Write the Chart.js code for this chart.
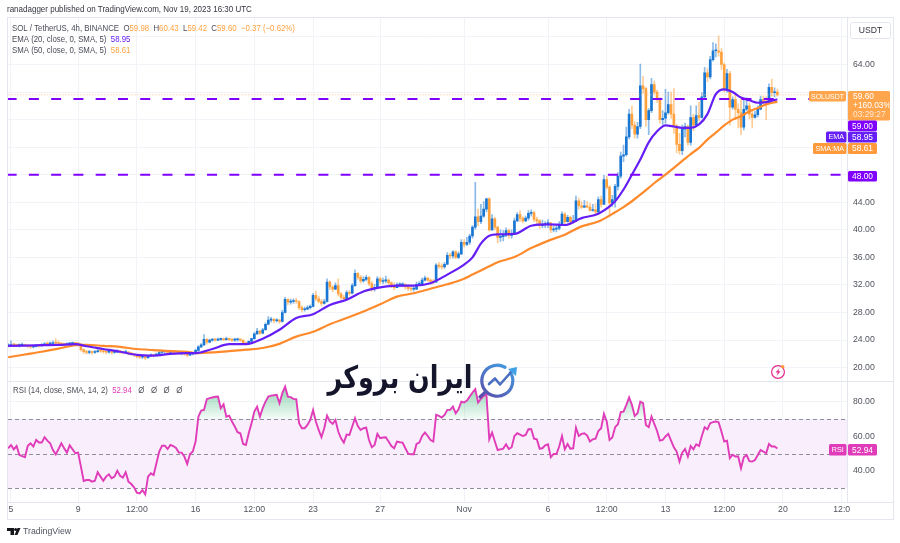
<!DOCTYPE html>
<html>
<head>
<meta charset="utf-8">
<style>
html,body{margin:0;padding:0;background:#fff;}
canvas{display:block;}
</style>
<script src="https://cdn.jsdelivr.net/npm/chart.js@4/dist/chart.umd.min.js"></script>
</head>
<body>
<canvas id="c" width="900" height="543"></canvas>
<script>
/* ===== data, first bar is index -1, Oct 5 00:00 is index 0, one bar per 4h ===== */
const barClose=[
23.2,23.35,23.3,23.2,23.25,23.3,23.2,23.1,23.0,23.05,23.2,23.15,23.3,23.45,23.4,23.5,23.6,23.55,23.5,23.4,23.35,23.45,23.5,23.55,23.5,23.45,
22.6,22.3,22.2,22.3,22.2,22.3,22.45,22.4,22.3,22.25,22.3,22.2,22.25,22.4,22.3,22.2,22.3,22.1,22.0,21.85,21.6,21.5,21.55,21.4,21.7,21.8,21.75,21.95,22.2,22.3,22.3,22.2,22.3,22.25,22.2,22.05,22.05,22.0,21.8,21.95,22.05,22.5,
23.0,23.3,24.1,23.7,24.0,24.1,24.0,24.1,24.15,24.05,24.2,24.1,24.0,24.05,24.1,24.0,23.55,23.45,23.8,24.2,24.9,25.3,25.0,25.5,26.3,26.9,27.0,26.8,26.9,26.7,28.0,29.9,
29.5,29.6,29.7,29.6,28.7,28.4,28.5,28.7,28.9,30.5,30.0,29.6,29.3,29.6,32.4,31.7,31.4,31.9,30.7,30.2,30.0,30.9,30.8,31.9,33.7,33.1,32.6,32.8,33.1,32.2,31.5,31.6,32.9,32.5,32.6,32.7,32.3,31.9,31.6,32.0,32.0,32.0,31.7,31.5,31.4,31.4,32.1,32.2,32.7,33.0,32.7,32.5,32.4,
34.9,34.7,34.6,35.0,36.3,36.2,36.8,36.0,36.5,38.2,37.9,38.2,39.1,40.4,41.9,41.2,42.0,43.0,44.5,40.0,41.6,40.4,38.9,39.0,39.2,39.9,39.2,39.4,41.3,42.2,41.7,41.3,41.7,42.4,42.5,41.5,41.3,40.6,40.7,40.9,41.0,40.0,40.1,40.2,40.8,42.3,41.2,41.8,41.2,41.3,44.2,
43.5,43.3,43.5,43.3,42.8,42.9,42.6,44.4,43.7,47.3,46.2,43.9,44.4,46.3,47.8,50.7,50.9,53.5,56.8,55.2,53.9,55.0,60.9,60.5,56.0,57.3,61.1,60.0,59.0,56.0,56.2,57.0,58.2,56.8,55.1,52.4,51.5,54.6,55.0,52.7,56.3,55.2,56.6,56.3,
59.3,62.8,62.2,64.7,66.0,66.0,65.8,64.0,60.4,62.7,57.8,58.9,57.5,57.0,54.9,57.5,58.0,56.8,56.3,56.7,57.5,58.9,58.6,58.4,60.7,59.9,59.98,59.60];
const barHigh=[
23.5,23.9,23.5,23.4,23.45,23.6,23.4,23.35,23.25,23.2,23.35,23.3,23.5,23.65,23.7,23.75,23.9,24.2,23.9,23.65,23.55,23.6,23.65,23.7,23.65,23.6,
23.4,22.7,22.5,22.5,22.4,22.5,22.6,22.6,22.5,22.45,22.5,22.35,22.4,22.6,22.45,22.35,22.55,22.3,22.2,22.0,21.9,21.7,21.7,21.6,21.8,22.0,21.95,22.1,22.35,22.5,22.5,22.45,22.5,22.4,22.35,22.25,22.2,22.15,22.0,22.1,22.2,22.7,
23.2,23.5,24.8,24.2,24.15,24.2,24.25,24.3,24.3,24.3,24.45,24.3,24.2,24.3,24.3,24.2,24.0,23.7,23.9,24.3,25.1,25.7,25.4,25.7,26.5,27.4,27.3,27.1,27.1,27.0,28.3,30.2,
30.0,29.95,30.0,30.1,29.7,29.0,28.8,29.0,29.1,30.8,31.1,30.4,29.9,29.9,32.9,32.6,31.9,32.3,32.9,30.9,30.5,31.2,31.2,32.2,34.2,33.8,33.4,33.2,33.4,33.2,32.5,32.1,33.2,33.1,33.0,33.3,32.9,32.5,32.3,32.3,32.3,32.3,32.2,32.0,31.8,31.7,32.4,32.5,33.0,33.3,33.1,32.9,32.8,
35.1,35.3,35.1,35.3,36.7,36.6,37.0,37.0,36.8,38.6,38.6,38.9,39.4,40.6,46.9,43.0,43.7,44.1,44.6,44.7,42.2,41.8,40.5,40.0,39.9,40.3,40.1,40.0,41.7,42.5,42.8,41.9,42.0,42.8,42.9,42.7,41.8,41.5,41.4,41.2,41.5,41.1,40.5,40.6,41.2,42.6,42.5,42.1,42.0,42.1,44.9,
44.6,44.1,44.3,44.1,43.9,43.7,43.8,44.8,44.9,47.9,47.8,46.4,45.0,46.6,48.3,51.3,52.3,54.9,57.5,58.0,55.7,55.6,64.05,62.3,60.7,57.6,62.0,61.6,60.3,59.2,57.3,60.4,60.0,60.0,60.5,55.3,54.0,55.2,55.5,55.2,58.0,56.8,58.0,58.5,
59.9,63.6,63.4,65.2,67.2,67.0,68.15,66.3,64.2,63.3,63.0,59.3,59.6,58.3,59.0,59.2,59.2,58.4,57.5,57.2,58.0,59.4,59.4,59.3,61.2,61.9,60.6,60.43];
const barLow=[
23.0,23.1,23.1,23.05,23.0,23.15,23.1,22.9,22.8,22.85,23.0,22.95,23.1,23.2,23.25,23.3,23.4,23.4,23.3,23.25,23.2,23.3,23.3,23.35,23.35,23.3,
22.4,22.05,21.95,22.0,21.9,22.05,22.2,22.2,22.1,22.0,22.1,21.95,22.05,22.2,22.05,22.0,22.1,21.85,21.8,21.6,21.4,21.3,21.35,21.15,21.4,21.6,21.55,21.7,21.9,22.05,22.1,22.05,22.1,22.05,22.0,21.9,21.85,21.8,21.6,21.75,21.85,22.0,
22.4,22.9,23.2,23.4,23.6,23.8,23.85,23.9,23.95,23.9,24.0,23.9,23.75,23.8,23.8,23.8,23.45,23.3,23.35,23.7,24.1,24.8,24.8,24.9,25.4,26.2,26.6,26.5,26.6,26.4,26.6,27.9,
29.1,29.2,29.3,29.3,28.4,28.1,28.2,28.4,28.5,28.8,29.7,29.4,29.0,29.2,29.5,31.3,31.0,31.3,30.4,29.9,29.7,29.9,30.5,30.7,31.8,32.8,32.3,32.4,32.6,31.9,31.1,31.1,31.5,32.1,32.2,32.3,32.0,31.6,31.3,31.6,31.7,31.7,31.4,31.2,31.1,31.1,31.3,31.9,32.1,32.6,32.5,32.2,32.1,
32.4,34.4,34.3,34.4,34.9,35.8,35.9,35.8,35.8,36.4,37.5,37.7,37.9,38.8,40.1,40.6,40.9,41.8,42.6,39.8,39.9,40.0,38.1,38.3,38.4,39.0,38.8,38.8,39.3,41.2,41.2,41.0,41.2,41.4,42.0,41.2,40.9,40.2,40.3,40.3,40.3,39.6,39.7,39.7,40.0,40.6,40.9,41.1,40.8,41.0,41.2,
43.0,43.1,43.2,43.2,42.7,42.7,42.3,42.3,43.3,43.9,45.9,42.0,43.4,43.3,45.8,47.5,49.9,50.7,53.2,54.7,53.3,53.3,54.7,59.8,55.0,53.8,57.0,59.7,58.5,55.5,55.3,55.5,56.8,56.2,54.0,51.2,51.0,50.9,53.5,52.3,52.3,54.4,55.9,55.8,
56.2,59.0,61.5,61.9,64.5,65.1,65.2,63.3,60.0,60.0,55.2,57.5,56.0,54.8,53.8,54.5,57.3,56.1,54.8,56.2,56.4,57.4,58.1,56.0,58.3,59.4,59.3,59.42];
const rsiValues=[
53.1,55,52.5,54.4,49.2,48.6,47.9,54.6,56,54.1,57.9,56.4,56.4,59.5,57.5,56,52.1,49.6,52.7,56,53.1,50.6,54.8,52.5,50.2,50.6,
42.5,34.2,34.7,34.7,33.8,34.3,39.2,36.7,34.3,36.7,38,35.7,36.7,40.1,37.2,36.1,39.2,33.8,32.4,30.5,27.4,27,28.9,26.4,36.7,38.6,37.6,44.4,51.2,54.6,54.6,52.7,55,54.4,53.3,50.6,50.6,48.3,44,49.8,51.2,57,
71.4,74.9,75.3,81.5,82.1,82.5,82.9,83,76.3,78.6,71.4,72,68.6,65.7,62.4,61.8,55.6,55,61.8,67.6,74.3,77.2,71.4,76.3,80.1,83,83.6,83.8,84,79.2,85,88.8,83,82.7,81.7,81.5,67.6,
64.7,64.7,66.6,69.5,75.3,68.6,63.7,59.5,64.7,72,68.6,67.2,69.5,62.8,58.9,56.4,61,60.8,65.7,70.5,66,63.7,64.7,65,57.9,53.7,55,61.4,58.9,59.3,59.5,57,54.4,53.1,57,56.6,56.4,53.1,50,49.6,49.6,55.6,56.4,60.2,62.2,60.2,57.9,57,
72.4,71.8,70.9,72.4,75.3,75.3,77.2,73.4,75.7,80.1,79.6,80.7,83,85.4,87.3,79.6,81.7,83.4,84,58.3,62.2,57,52.1,52.5,52.9,55.4,52.7,53.7,60.2,61.8,61,60.2,60.8,64.1,64.1,58.7,58.3,52.9,53.1,54.8,55.4,47.9,49.8,49.8,54.1,60.2,52.5,55.6,52.9,53.1,65,
60.2,61.4,61.8,60.4,57,58.3,58.7,63.1,64.7,73,68.6,57.9,59.3,65.3,67,74,74.3,78.2,82.5,78.2,71.8,73.4,80.1,79.2,66.6,65.3,71.4,67.2,63.1,57.5,57.9,59.9,61.4,57.5,53.7,51.2,45.4,50.6,52.7,48.3,54.4,52.5,55.4,54.4,
60.2,65.3,64.1,67.6,68.2,68.6,68.2,62.8,57,57.5,47.3,49.4,48.3,48.3,41.5,47.9,49.2,45.7,45.4,46.3,49.2,52.1,51.2,50.2,55.6,54.1,54.1,52.94];
const maIndex=[-1,5,11,17,23,27,33,39,45,51,57,63,66,72,78,84,90,96,102,108,114,120,126,132,138,144,150,156,162,165,168,171,174,180,186,192,198,204,210,216,219,222,225,228,231,234,237,240,243,246,249,252,255,258,261,264,267,270,274];
const emaValues=[23.15,23.2,23.25,23.3,23.4,23.1,22.7,22.3,21.85,21.75,22.0,22.1,22.1,22.7,23.4,23.4,24.2,25.5,27.2,27.75,29.1,29.85,31.05,31.65,31.9,31.9,32.25,33.5,34.95,36,38,39.15,39.35,39.4,40.6,40.8,40.7,41.7,42.35,44.15,45.85,48,50.2,52.7,54.3,55.15,55,54.8,54.8,55.3,56.8,59.7,60.4,60,59.2,58.8,58.45,58.55,58.95];
const smaValues=[21.5,21.9,22.3,22.75,23.25,23.3,23.15,23,22.7,22.55,22.4,22.3,22.1,22.2,22.4,22.6,22.85,23.45,24.5,25.2,26.3,27.2,28.15,29.2,30.3,30.8,31.45,32.1,32.9,33.5,34.1,34.7,35.3,36.05,37.35,38.4,39.3,40.5,41.2,42.55,43.3,44.15,45.1,46.1,47.1,48,49,50,51,51.9,53.1,54.1,55.15,56,56.5,57.2,57.7,58.2,58.61];
const levelValues=[59,48];
const lastPrice=59.60;
const priceTicks=[20,24,28,32,36,40,44,48,52,56,60,64,68];
const priceLabels=[20,24,28,32,36,40,44,64];
const rsiTicks=[40,60,80];
const rsiBands=[70,50,30];
const timeTicks=[0,24,45,66,87,108,132,162,192,213,234,255,276,297];
const timeLabels=['5','9','12:00','16','12:00','23','27','Nov','6','12:00','13','12:00','20','12:0'];

const barIndex=barClose.map((_,k)=>k-1);
const barOpen=barClose.map((v,k)=>k?barClose[k-1]:23.15);

const UP='#1976d2',DOWN='#ffa23e',UP_W='rgba(25,118,210,.5)',DOWN_W='rgba(255,162,62,.55)';
const FONT='"Liberation Sans",sans-serif';
const PURPLE='#7f00ff',EMA='#651ff6',SMA='#ff8a2b',RSI='#e03bb8',GRID='#f1f3f8',FRAME='#e3e6ee';

const cvs=document.getElementById('c');
const gctx=cvs.getContext('2d');
const rsiGreen=gctx.createLinearGradient(0,388,0,420);
rsiGreen.addColorStop(0,'rgba(60,180,120,.55)');rsiGreen.addColorStop(1,'rgba(60,180,120,.04)');

/* ---------- 小工具 ---------- */
function tag(ctx,x,y,w,h,bg,txt,size){
  ctx.font=(size||8.4)+'px '+FONT;
  ctx.fillStyle=bg;ctx.beginPath();ctx.roundRect(x,y,w,h,1.5);ctx.fill();
  ctx.fillStyle='#fff';ctx.textAlign='center';ctx.textBaseline='middle';
  ctx.fillText(txt,x+w/2,y+h/2+.5);
}
// text narrower than the font gives, the original face is condensed against Liberation
function runs(ctx,x,y,list,sx=1){
  ctx.save();ctx.translate(x,y);ctx.scale(sx,1);
  ctx.textAlign='left';ctx.textBaseline='middle';
  let p=0;
  list.forEach(([t,col])=>{ctx.fillStyle=col;ctx.fillText(t,p,0);p+=ctx.measureText(t).width;});
  ctx.restore();
}

/* ---------- plugin：RSI 帶 ---------- */
const band={id:'band',beforeDatasetsDraw(c){
  const {ctx,chartArea:{left,right},scales:{y2}}=c;
  ctx.save();
  ctx.fillStyle='#f9eefb';ctx.fillRect(left,y2.getPixelForValue(70),right-left,y2.getPixelForValue(30)-y2.getPixelForValue(70));
  ctx.strokeStyle='#8f8f9c';ctx.lineWidth=1;ctx.setLineDash([4,3]);
  rsiBands.forEach(v=>{const y=Math.round(y2.getPixelForValue(v))+.5;ctx.beginPath();ctx.moveTo(left,y);ctx.lineTo(right,y);ctx.stroke();});
  ctx.restore();
}};

/* ---------- plugin：外框、文字、標籤、logo ---------- */
const overlay={id:'overlay',afterDraw(c){
  const {ctx,chartArea:{bottom},scales:{y}}=c;
  ctx.save();
  ctx.strokeStyle=FRAME;ctx.lineWidth=1;
  ctx.strokeRect(7.5,17.5,886,502);
  const sep=Math.round(y.bottom)+.5;
  ctx.beginPath();ctx.moveTo(7.5,sep);ctx.lineTo(893.5,sep);
  ctx.moveTo(7.5,Math.round(bottom)+.5);ctx.lineTo(893.5,Math.round(bottom)+.5);ctx.stroke();

  ctx.font='9px '+FONT;
  runs(ctx,7,10,[['ranadagger published on TradingView.com, Nov 19, 2023 16:30 UTC','#33353f']],.89);
  const o='#ffa23e',k='#4a4c57';
  runs(ctx,12,29,[['SOL / TetherUS, 4h, BINANCE  ',k],['O',k],['59.98  ',o],['H',k],['60.43  ',o],['L',k],['59.42  ',o],['C',k],['59.60  ',o],['−0.37 (−0.62%)',o]],.87);
  runs(ctx,12,40,[['EMA (20, close, 0, SMA, 5)  ',k],['58.95',EMA]],.87);
  runs(ctx,12,51,[['SMA (50, close, 0, SMA, 5)  ',k],['58.61',o]],.87);
  runs(ctx,13,391,[['RSI (14, close, SMA, 14, 2)  ',k],['52.94',RSI],['   Ø   Ø   Ø   Ø',k]],.87);

  /* USDT */
  ctx.fillStyle='#fff';ctx.strokeStyle=FRAME;ctx.beginPath();ctx.roundRect(850.5,22.5,40,16,2);ctx.fill();ctx.stroke();
  ctx.font='8.6px '+FONT;
  ctx.fillStyle='#33353f';ctx.textAlign='center';ctx.textBaseline='middle';ctx.fillText('USDT',870.5,30.5);

  /* 右側標籤 */
  tag(ctx,809,91,37,10.5,'#ffa64d','SOLUSDT',7);
  ctx.fillStyle='#ffa64d';ctx.beginPath();ctx.roundRect(848,91,42,29.5,1.5);ctx.fill();
  ctx.font='8.4px '+FONT;
  ctx.fillStyle='#fff';ctx.textAlign='left';ctx.textBaseline='middle';
  ctx.fillText('59.60',853,96.5);ctx.fillText('+160.03%',853,105.5);
  ctx.fillStyle='rgba(255,255,255,.75)';ctx.fillText('03:29:27',853,115);
  tag(ctx,848,120.5,29,10.5,PURPLE,'59.00');
  tag(ctx,826,131.5,20.5,11,EMA,'EMA',7.2);
  tag(ctx,848,131.5,29,11,EMA,'58.95');
  tag(ctx,813,143,33.5,11,'#ff9a3c','SMA:MA',7.2);
  tag(ctx,848,143,29,11,'#ff9a3c','58.61');
  tag(ctx,848,171,29,10.5,PURPLE,'48.00');
  tag(ctx,829,444,17.5,11.5,RSI,'RSI',7.2);
  tag(ctx,848,444,29,11.5,RSI,'52.94');

  /* 閃電 */
  ctx.strokeStyle='#e5298f';ctx.lineWidth=1.2;ctx.beginPath();ctx.arc(778,372,6.4,0,Math.PI*2);ctx.stroke();
  ctx.fillStyle='#e5298f';ctx.beginPath();
  ctx.moveTo(779.5,368);ctx.lineTo(775.5,372.6);ctx.lineTo(777.8,372.6);ctx.lineTo(776.6,376);ctx.lineTo(780.6,371.2);ctx.lineTo(778.3,371.2);ctx.closePath();ctx.fill();
  ctx.fillStyle='#ff9a3c';ctx.beginPath();ctx.arc(782.7,366.8,1.8,0,Math.PI*2);ctx.fill();

  /* 浮水印 */
  ctx.save();
  ctx.translate(400,380);ctx.scale(.82,1);
  ctx.font='bold 31px "DejaVu Sans",sans-serif';ctx.fillStyle='#14142b';ctx.textAlign='center';ctx.textBaseline='middle';
  ctx.direction='rtl';ctx.fillText('ایران بروکر',0,0);ctx.direction='ltr';
  ctx.restore();
  const g=ctx.createLinearGradient(510,362,484,400);
  g.addColorStop(0,'#3fa2e6');g.addColorStop(1,'#5a4aa8');
  ctx.strokeStyle=g;ctx.lineWidth=3.2;ctx.lineCap='round';
  ctx.beginPath();ctx.arc(497.3,380.7,15.5,-.55,-1.05+Math.PI*2);ctx.stroke();
  ctx.beginPath();ctx.moveTo(486,391.5);ctx.lineTo(480,397);ctx.stroke();
  ctx.strokeStyle='#4a6fc0';ctx.lineWidth=2.6;ctx.lineJoin='round';
  ctx.beginPath();ctx.moveTo(489,384);ctx.lineTo(495,378.5);ctx.lineTo(500,384.5);ctx.lineTo(512,371);ctx.stroke();
  ctx.fillStyle='#3fa2e6';ctx.beginPath();ctx.moveTo(517,367);ctx.lineTo(516,376);ctx.lineTo(508,369);ctx.closePath();ctx.fill();

  /* TradingView */
  ctx.fillStyle='#14151b';
  ctx.fillRect(7,528,7,3);ctx.fillRect(10.5,528,3.5,7);
  ctx.beginPath();ctx.arc(15.6,529.5,1.5,0,Math.PI*2);ctx.fill();
  ctx.beginPath();ctx.moveTo(17.5,528);ctx.lineTo(20.5,528);ctx.lineTo(17.4,535);ctx.lineTo(14.5,535);ctx.closePath();ctx.fill();
  ctx.font='9.5px '+FONT;
  runs(ctx,23,531.5,[['TradingView','#50535e']],.92);
  ctx.restore();
}};

/* ---------- 圖 ---------- */
const colour=(up,down)=>barClose.map((v,k)=>v>=barOpen[k]?up:down);
const pts=(xs,ys)=>xs.map((x,k)=>({x,y:ys[k]}));
const mkLevel=v=>({type:'line',data:[{x:-1.57,y:v},{x:299,y:v}],borderColor:PURPLE,borderWidth:2,borderDash:[10,12.27],pointRadius:0,order:1});
const tickOpts={padding:6,color:'#50535e',font:{family:FONT,size:8.7}};

new Chart(cvs,{
  data:{datasets:[
    {type:'bar',data:barIndex.map((x,k)=>({x,y:[barLow[k],barHigh[k]]})),backgroundColor:colour(UP_W,DOWN_W),barThickness:1,grouped:false,order:7},
    {type:'bar',data:barIndex.map((x,k)=>({x,y:[barOpen[k],barClose[k]]})),backgroundColor:colour(UP,DOWN),barThickness:2,minBarLength:1,grouped:false,order:6},
    {type:'line',data:pts(maIndex,smaValues),borderColor:SMA,borderWidth:2.2,pointRadius:0,cubicInterpolationMode:'monotone',order:4},
    {type:'line',data:pts(maIndex,emaValues),borderColor:EMA,borderWidth:2.2,pointRadius:0,cubicInterpolationMode:'monotone',order:3},
    {type:'line',data:[{x:-2,y:lastPrice},{x:299,y:lastPrice}],borderColor:'#ffbf80',borderWidth:1,borderDash:[1,2],pointRadius:0,order:5},
    mkLevel(levelValues[0]),mkLevel(levelValues[1]),
    {type:'line',yAxisID:'y2',data:pts(barIndex,rsiValues),borderColor:RSI,borderWidth:1.9,pointRadius:0,tension:0,
     fill:{target:{value:70},above:rsiGreen,below:'rgba(0,0,0,0)'},order:2}
  ]},
  options:{
    responsive:false,animation:false,
    layout:{padding:{left:8,right:7,top:18,bottom:24.5}},
    plugins:{legend:{display:false},tooltip:{enabled:false}},
    scales:{
      x:{type:'linear',min:-1.07,max:298.9,offset:false,
         grid:{color:GRID,offset:false,drawTicks:false},border:{display:false},
         afterBuildTicks:s=>{s.ticks=timeTicks.map(value=>({value}));},
         afterFit:s=>{s.height=17;},
         ticks:{...tickOpts,padding:3,autoSkip:false,maxRotation:0,callback:(v,i)=>timeLabels[i]}},
      y:{type:'linear',position:'right',stack:'panes',stackWeight:362.7,min:18.1,max:70.75,
         grid:{color:GRID,drawTicks:false},border:{color:FRAME},
         afterBuildTicks:s=>{s.ticks=priceTicks.map(value=>({value}));},
         afterFit:s=>{s.width=46;},
         ticks:{...tickOpts,callback:v=>priceLabels.includes(v)?v.toFixed(2):''}},
      y2:{type:'linear',position:'right',stack:'panes',stackWeight:120.8,min:22.3,max:92.2,
         grid:{color:GRID,drawTicks:false},border:{color:FRAME},
         afterBuildTicks:s=>{s.ticks=rsiTicks.map(value=>({value}));},
         afterFit:s=>{s.width=46;},
         ticks:{...tickOpts,callback:v=>v.toFixed(2)}}
    }
  },
  plugins:[band,overlay]
});
</script>
</body>
</html>
